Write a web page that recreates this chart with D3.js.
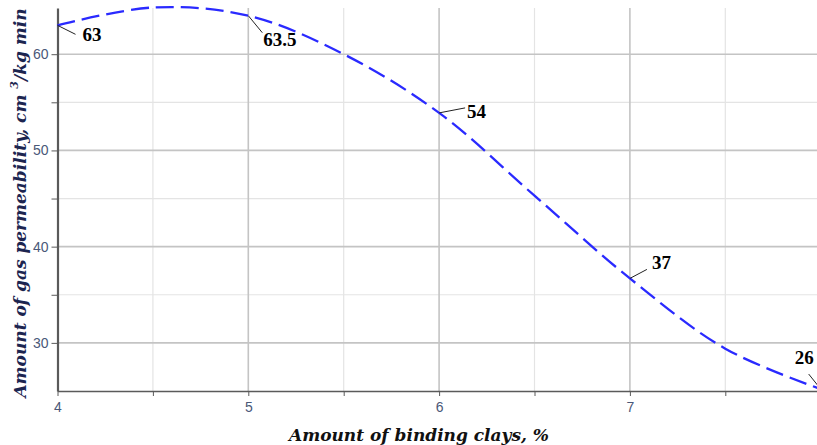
<!DOCTYPE html>
<html>
<head>
<meta charset="utf-8">
<script src="https://cdn.jsdelivr.net/npm/d3@7"></script>
<style>
  body { margin: 0; background: #fff; }
  svg { display: block; }
</style>
</head>
<body>
<div id="chart"></div>
<script>
// values
const clays = [4, 4.5, 5, 5.5, 6, 6.5, 7, 7.5, 8];
const permeability = [63, 64.85, 64, 60, 53.9, 45.3, 36.7, 29.4, 25.2];
const labelX = [4, 5, 6, 7, 8];
const labelText = ["63", "63.5", "54", "37", "26"];
const xTicks = [4, 5, 6, 7, 8];
const yTicks = [30, 40, 50, 60];

const width = 817, height = 445;

const svg = d3.select("#chart").append("svg")
  .attr("width", width)
  .attr("height", height);

const x = d3.scaleLinear().domain([4, 8]).range([57.5, 820.7]);
const y = d3.scaleLinear().domain([25, 64.8]).range([391, 8]);

// minor grid
const xMinor = d3.range(4.5, 8, 1);
const yMinor = [35, 45, 55];
svg.append("g").selectAll("line").data(xMinor).join("line")
  .attr("x1", d => x(d)).attr("x2", d => x(d))
  .attr("y1", y(64.8)).attr("y2", y(25))
  .attr("stroke", "#e4e4e4").attr("stroke-width", 1.2);
svg.append("g").selectAll("line").data(yMinor).join("line")
  .attr("x1", x(4)).attr("x2", width)
  .attr("y1", d => y(d)).attr("y2", d => y(d))
  .attr("stroke", "#e4e4e4").attr("stroke-width", 1.2);

// major grid
svg.append("g").selectAll("line").data(xTicks.slice(1)).join("line")
  .attr("x1", d => x(d)).attr("x2", d => x(d))
  .attr("y1", y(64.8)).attr("y2", y(25))
  .attr("stroke", "#c4c4c4").attr("stroke-width", 1.6);
svg.append("g").selectAll("line").data(yTicks).join("line")
  .attr("x1", x(4)).attr("x2", width)
  .attr("y1", d => y(d)).attr("y2", d => y(d))
  .attr("stroke", "#c4c4c4").attr("stroke-width", 1.6);

// axes
const xAxis = svg.append("g")
  .attr("transform", `translate(0,${y(25)})`)
  .call(d3.axisBottom(x).tickValues(d3.range(4, 8.01, 0.5))
    .tickFormat(d => Number.isInteger(d) ? d : "")
    .tickSize(5).tickSizeOuter(0));
const yAxis = svg.append("g")
  .attr("transform", `translate(${x(4)},0)`)
  .call(d3.axisLeft(y).tickValues([30, 35, 40, 45, 50, 55, 60])
    .tickFormat(d => d % 10 === 0 ? d : "")
    .tickSize(6).tickSizeOuter(0));

[xAxis, yAxis].forEach(g => {
  g.select(".domain").attr("stroke", "#5a5a5a");
  g.selectAll(".tick line").attr("stroke", "#5a5a5a");
  g.selectAll(".tick text")
    .attr("fill", "#4a5878")
    .attr("font-family", "Liberation Sans, sans-serif")
    .attr("font-size", 14);
});
xAxis.select(".domain").attr("stroke-width", 1.5);
yAxis.select(".domain").attr("stroke-width", 2.2);
xAxis.selectAll(".tick text").attr("dy", "0.95em");
// the 8 sits on the right edge and is cut, as in the picture
xAxis.selectAll(".tick text").filter(d => d === 8).attr("fill", "#d8a040");

// curve
const line = d3.line()
  .x((d, i) => x(clays[i]))
  .y(d => y(d))
  .curve(d3.curveCatmullRom.alpha(0.5));

svg.append("path")
  .datum(permeability)
  .attr("d", line)
  .attr("fill", "none")
  .attr("stroke", "#2a2aff")
  .attr("stroke-width", 2.3)
  .attr("stroke-dasharray", "18,7");

// point labels with leader lines
const labelOffsets = [
  { dx: 18, dy: 9, tx: 25, ty: 16 },
  { dx: 14, dy: 17, tx: 15, ty: 30 },
  { dx: 26, dy: -5, tx: 28, ty: 5 },
  { dx: 17, dy: -9, tx: 22, ty: -9 },
  { dx: -12, dy: -15, tx: -26, ty: -25 }
];
const lab = svg.append("g");
labelX.forEach((v, i) => {
  const px = x(v), py = y(permeability[clays.indexOf(v)]);
  const o = labelOffsets[i];
  lab.append("line")
    .attr("x1", px).attr("y1", py)
    .attr("x2", px + o.dx).attr("y2", py + o.dy)
    .attr("stroke", "#222").attr("stroke-width", 1);
  lab.append("text")
    .attr("x", px + o.tx).attr("y", py + o.ty)
    .attr("font-family", "Liberation Serif, serif")
    .attr("font-weight", "bold")
    .attr("font-size", 19)
    .text(labelText[i]);
});

// axis titles
svg.append("text")
  .attr("x", 419).attr("y", 441)
  .attr("text-anchor", "middle")
  .attr("font-family", "DejaVu Serif, serif")
  .attr("font-weight", "bold").attr("font-style", "italic")
  .attr("font-size", 17)
  .attr("fill", "#111")
  .text("Amount of binding clays, %");

const yt = svg.append("text")
  .attr("transform", "translate(26,203) rotate(-90)")
  .attr("text-anchor", "middle")
  .attr("font-family", "DejaVu Serif, serif")
  .attr("font-weight", "bold").attr("font-style", "italic")
  .attr("font-size", 17)
  .attr("fill", "#1c2550");
yt.append("tspan").text("Amount of gas permeability,  cm ");
yt.append("tspan").attr("dy", -8).attr("font-size", 11).text("3");
yt.append("tspan").attr("dy", 8).text("/kg min");
</script>
</body>
</html>
